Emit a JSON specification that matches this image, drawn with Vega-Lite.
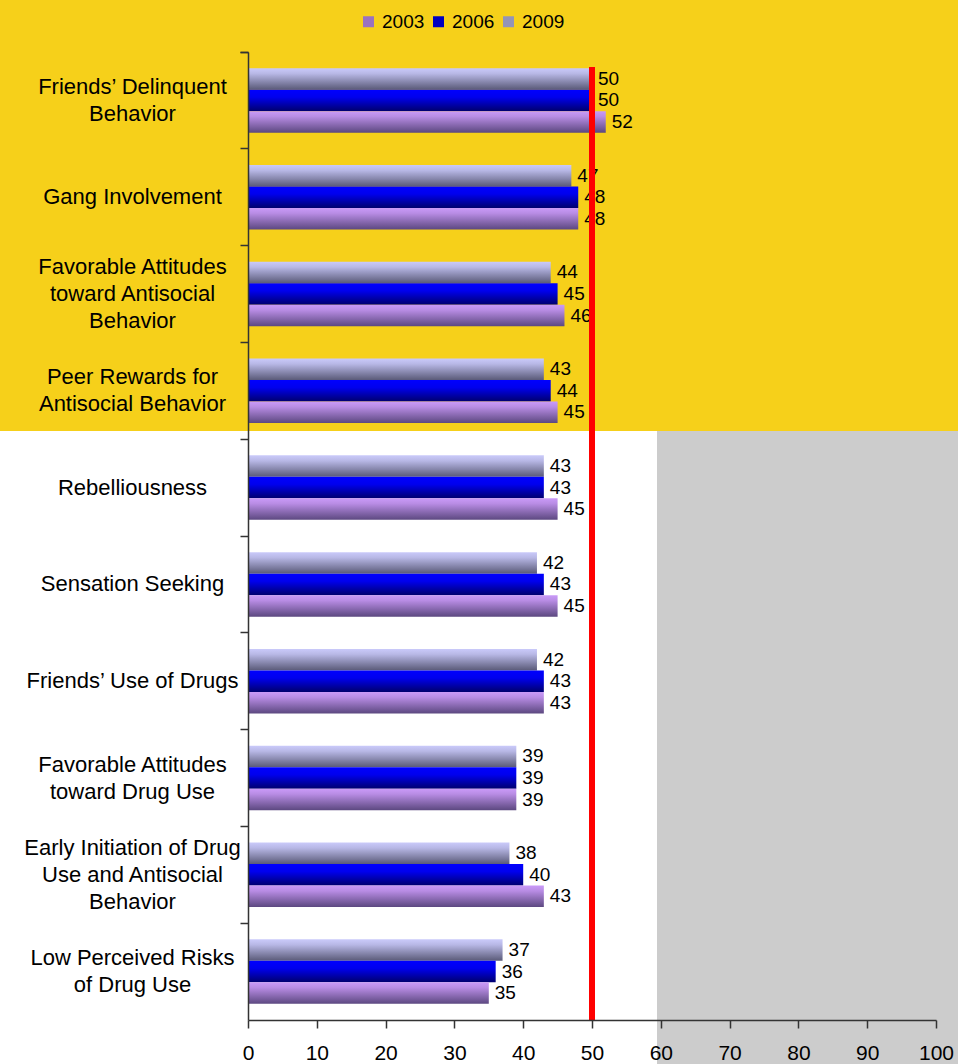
{
  "$schema": "https://vega.github.io/schema/vega-lite/v6.json",
  "width": 688,
  "height": 968,
  "autosize": {"type": "none"},
  "padding": {"left": 248, "top": 52, "right": 22, "bottom": 44},
  "background": "#ffffff",
  "config": {
    "view": {"stroke": null},
    "font": "Liberation Sans",
    "axis": {"labelColor": "#000000", "domainColor": "#333333", "tickColor": "#333333", "domainWidth": 1.5, "tickWidth": 1.5, "grid": false}
  },
  "datasets": {
    "scores": [
      {"factor": "Friends’ Delinquent\nBehavior", "year": "2009", "score": 50},
      {"factor": "Friends’ Delinquent\nBehavior", "year": "2006", "score": 50},
      {"factor": "Friends’ Delinquent\nBehavior", "year": "2003", "score": 52},
      {"factor": "Gang Involvement", "year": "2009", "score": 47},
      {"factor": "Gang Involvement", "year": "2006", "score": 48},
      {"factor": "Gang Involvement", "year": "2003", "score": 48},
      {"factor": "Favorable Attitudes\ntoward Antisocial\nBehavior", "year": "2009", "score": 44},
      {"factor": "Favorable Attitudes\ntoward Antisocial\nBehavior", "year": "2006", "score": 45},
      {"factor": "Favorable Attitudes\ntoward Antisocial\nBehavior", "year": "2003", "score": 46},
      {"factor": "Peer Rewards for\nAntisocial Behavior", "year": "2009", "score": 43},
      {"factor": "Peer Rewards for\nAntisocial Behavior", "year": "2006", "score": 44},
      {"factor": "Peer Rewards for\nAntisocial Behavior", "year": "2003", "score": 45},
      {"factor": "Rebelliousness", "year": "2009", "score": 43},
      {"factor": "Rebelliousness", "year": "2006", "score": 43},
      {"factor": "Rebelliousness", "year": "2003", "score": 45},
      {"factor": "Sensation Seeking", "year": "2009", "score": 42},
      {"factor": "Sensation Seeking", "year": "2006", "score": 43},
      {"factor": "Sensation Seeking", "year": "2003", "score": 45},
      {"factor": "Friends’ Use of Drugs", "year": "2009", "score": 42},
      {"factor": "Friends’ Use of Drugs", "year": "2006", "score": 43},
      {"factor": "Friends’ Use of Drugs", "year": "2003", "score": 43},
      {"factor": "Favorable Attitudes\ntoward Drug Use", "year": "2009", "score": 39},
      {"factor": "Favorable Attitudes\ntoward Drug Use", "year": "2006", "score": 39},
      {"factor": "Favorable Attitudes\ntoward Drug Use", "year": "2003", "score": 39},
      {"factor": "Early Initiation of Drug\nUse and Antisocial\nBehavior", "year": "2009", "score": 38},
      {"factor": "Early Initiation of Drug\nUse and Antisocial\nBehavior", "year": "2006", "score": 40},
      {"factor": "Early Initiation of Drug\nUse and Antisocial\nBehavior", "year": "2003", "score": 43},
      {"factor": "Low Perceived Risks\nof Drug Use", "year": "2009", "score": 37},
      {"factor": "Low Perceived Risks\nof Drug Use", "year": "2006", "score": 36},
      {"factor": "Low Perceived Risks\nof Drug Use", "year": "2003", "score": 35}
    ]
  },
  "resolve": {"scale": {"y": "independent"}},
  "layer": [
    {
      "data": {"values": [{}]},
      "layer": [
        {
          "mark": {"type": "rect", "color": "#F6D01A", "clip": false},
          "encoding": {
            "x": {"datum": -36.05, "type": "quantitative", "scale": {"domain": [0, 100], "nice": false}},
            "x2": {"datum": 103.2},
            "y": {"datum": -0.54, "type": "quantitative", "scale": {"domain": [0, 10], "reverse": true, "nice": false, "zero": false}, "axis": null},
            "y2": {"datum": 3.915}
          }
        },
        {
          "mark": {"type": "rect", "color": "#CCCCCC", "clip": false},
          "encoding": {
            "x": {"datum": 59.45, "type": "quantitative"},
            "x2": {"datum": 103.2},
            "y": {"datum": 3.915, "type": "quantitative", "axis": null},
            "y2": {"datum": 10.46}
          }
        }
      ]
    },
    {
      "data": {"name": "scores"},
      "layer": [
        {
          "mark": {"type": "bar"},
          "encoding": {
            "x": {
              "field": "score", "type": "quantitative",
              "scale": {"domain": [0, 100], "nice": false},
              "axis": {"title": null, "zindex": 1, "values": [0, 10, 20, 30, 40, 50, 60, 70, 80, 90, 100], "tickSize": 8, "labelFontSize": 21, "labelPadding": 14, "labelFlush": false}
            },
            "y": {
              "field": "factor", "type": "nominal",
              "scale": {
                "domain": [
                  "Friends’ Delinquent\nBehavior",
                  "Gang Involvement",
                  "Favorable Attitudes\ntoward Antisocial\nBehavior",
                  "Peer Rewards for\nAntisocial Behavior",
                  "Rebelliousness",
                  "Sensation Seeking",
                  "Friends’ Use of Drugs",
                  "Favorable Attitudes\ntoward Drug Use",
                  "Early Initiation of Drug\nUse and Antisocial\nBehavior",
                  "Low Perceived Risks\nof Drug Use"
                ],
                "paddingInner": 0,
                "paddingOuter": 0
              },
              "axis": {
                "title": null,
                "zindex": 1,
                "bandPosition": 0,
                "tickExtra": true,
                "tickSize": 8,
                "labelFontSize": 22,
                "labelLineHeight": 27,
                "labelAlign": "center",
                "labelBaseline": "middle",
                "labelPadding": 108,
                "labelLimit": 400,
                "labelOverlap": false,
                "labelOffset": {
                  "condition": [
                    {"test": "length(split(datum.value, '\\n')) === 3", "value": -27},
                    {"test": "length(split(datum.value, '\\n')) === 2", "value": -13.5}
                  ],
                  "value": 0
                },
                "labelExpr": "split(datum.label, '\\n')"
              }
            },
            "yOffset": {"field": "year", "sort": ["2009", "2006", "2003"], "scale": {"paddingInner": 0, "paddingOuter": 0.75}},
            "color": {
              "condition": [
                {"test": "datum.year === '2003'", "value": {"gradient": "linear", "x1": 0, "y1": 0, "x2": 0, "y2": 1, "stops": [{"offset": 0, "color": "#CA9AF8"}, {"offset": 0.25, "color": "#B88CE4"}, {"offset": 1, "color": "#5C4880"}]}},
                {"test": "datum.year === '2006'", "value": {"gradient": "linear", "x1": 0, "y1": 0, "x2": 0, "y2": 1, "stops": [{"offset": 0, "color": "#0000FF"}, {"offset": 0.35, "color": "#0000EE"}, {"offset": 1, "color": "#00006E"}]}},
                {"test": "datum.year === '2009'", "value": {"gradient": "linear", "x1": 0, "y1": 0, "x2": 0, "y2": 1, "stops": [{"offset": 0, "color": "#CACAFA"}, {"offset": 0.25, "color": "#B8B8E6"}, {"offset": 1, "color": "#5A5A78"}]}}
              ],
              "field": "year", "type": "nominal",
              "scale": {"domain": ["2003", "2006", "2009"], "range": ["#9A72C0", "#0000C0", "#9494B8"]},
              "legend": {
                "title": null,
                "orient": "none",
                "direction": "horizontal",
                "legendX": 111,
                "legendY": -40,
                "symbolType": "square",
                "symbolSize": 121,
                "symbolStrokeWidth": 0,
                "labelFontSize": 19,
                "labelColor": "#000000",
                "labelOffset": 4,
                "columnPadding": 4,
                "padding": 0,
                "encode": {
                  "symbols": {
                    "update": {
                      "fill": {"signal": "datum.value === '2003' ? {gradient: 'linear', x1: 0, y1: 0, x2: 0, y2: 1, stops: [{offset: 0, color: '#CA9AF8'}, {offset: 1, color: '#5C4880'}]} : datum.value === '2006' ? {gradient: 'linear', x1: 0, y1: 0, x2: 0, y2: 1, stops: [{offset: 0, color: '#0000FF'}, {offset: 1, color: '#00006E'}]} : {gradient: 'linear', x1: 0, y1: 0, x2: 0, y2: 1, stops: [{offset: 0, color: '#CACAFA'}, {offset: 1, color: '#5A5A78'}]}"}
                    }
                  }
                }
              }
            }
          }
        },
        {
          "mark": {"type": "text", "align": "left", "baseline": "middle", "dx": 6, "fontSize": 19, "color": "#000000"},
          "encoding": {
            "x": {"field": "score", "type": "quantitative"},
            "y": {"field": "factor", "type": "nominal"},
            "yOffset": {"field": "year", "sort": ["2009", "2006", "2003"]},
            "text": {"field": "score", "type": "quantitative"}
          }
        },
        {
          "mark": {"type": "rule", "color": "#FF0000", "strokeWidth": 6},
          "encoding": {
            "x": {"datum": 50, "type": "quantitative"},
            "y": {"datum": "Friends’ Delinquent\nBehavior", "type": "nominal", "bandPosition": 0.155},
            "y2": {"value": "height"}
          }
        }
      ]
    }
  ]
}
